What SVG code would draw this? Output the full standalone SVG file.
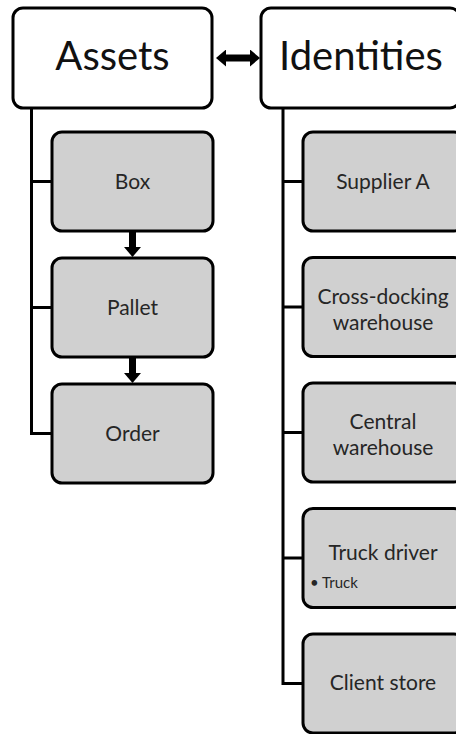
<svg xmlns="http://www.w3.org/2000/svg" width="456" height="734" viewBox="0 0 456 734">
  <style>
    .head { fill: #ffffff; stroke: #000000; stroke-width: 3; }
    .item { fill: #d0d0d0; stroke: #000000; stroke-width: 3; }
    .title { font-family: Lato, "Open Sans", sans-serif; font-size: 40px; fill: #111111; text-anchor: middle; }
    .label { font-family: Lato, "Open Sans", sans-serif; font-size: 21px; fill: #262626; text-anchor: middle; }
    .bullet { font-family: Lato, "Open Sans", sans-serif; font-size: 15px; fill: #262626; }
    .tree { fill: none; stroke: #000000; stroke-width: 3; }
    .arrow { fill: none; stroke: #000000; stroke-width: 7; }
  </style>
  <defs>
    <marker id="head" markerUnits="userSpaceOnUse" markerWidth="10" markerHeight="17" refX="0" refY="8.5" orient="auto-start-reverse">
      <path d="M0,0 L10,8.5 L0,17 Z" fill="#000000"/>
    </marker>
  </defs>
  <rect width="456" height="734" fill="#ffffff"/>

  <!-- connectors -->
  <g id="connectors">
    <path class="tree" d="M31.5,108 V433.5 H52 M31.5,181.5 H52 M31.5,307.5 H52"/>
    <path class="tree" d="M283,108 V683.5 H303 M283,181.5 H303 M283,307 H303 M283,432.5 H303 M283,558 H303"/>
    <line class="arrow" x1="226" y1="58" x2="250" y2="58" marker-start="url(#head)" marker-end="url(#head)"/>
    <line class="arrow" x1="132.5" y1="231" x2="132.5" y2="247" marker-end="url(#head)"/>
    <line class="arrow" x1="132.5" y1="357" x2="132.5" y2="373" marker-end="url(#head)"/>
  </g>

  <!-- column heads -->
  <g id="assets">
    <rect class="head" x="13" y="8" width="199" height="100" rx="10"/>
    <text class="title" x="112.5" y="70">Assets</text>
  </g>
  <g id="identities">
    <rect class="head" x="261" y="8" width="199" height="100" rx="10"/>
    <text class="title" x="361" y="70">Identities</text>
  </g>

  <!-- assets -->
  <g id="box">
    <rect class="item" x="52" y="132" width="161" height="99" rx="10"/>
    <text class="label" x="132.5" y="189">Box</text>
  </g>
  <g id="pallet">
    <rect class="item" x="52" y="258" width="161" height="99" rx="10"/>
    <text class="label" x="132.5" y="315">Pallet</text>
  </g>
  <g id="order">
    <rect class="item" x="52" y="384" width="161" height="99" rx="10"/>
    <text class="label" x="132.5" y="441">Order</text>
  </g>

  <!-- identities -->
  <g id="supplier-a">
    <rect class="item" x="303" y="132" width="161" height="99" rx="10"/>
    <text class="label" x="383" y="189">Supplier A</text>
  </g>
  <g id="cross-docking-warehouse">
    <rect class="item" x="303" y="257.5" width="161" height="99" rx="10"/>
    <text class="label" x="383" y="304">Cross-docking</text>
    <text class="label" x="383" y="330">warehouse</text>
  </g>
  <g id="central-warehouse">
    <rect class="item" x="303" y="383" width="161" height="99" rx="10"/>
    <text class="label" x="383" y="429">Central</text>
    <text class="label" x="383" y="455">warehouse</text>
  </g>
  <g id="truck-driver">
    <rect class="item" x="303" y="508.5" width="161" height="99" rx="10"/>
    <text class="label" x="383" y="560">Truck driver</text>
    <text class="bullet" x="310" y="588">• Truck</text>
  </g>
  <g id="client-store">
    <rect class="item" x="303" y="634" width="161" height="99" rx="10"/>
    <text class="label" x="383" y="690">Client store</text>
  </g>
</svg>
